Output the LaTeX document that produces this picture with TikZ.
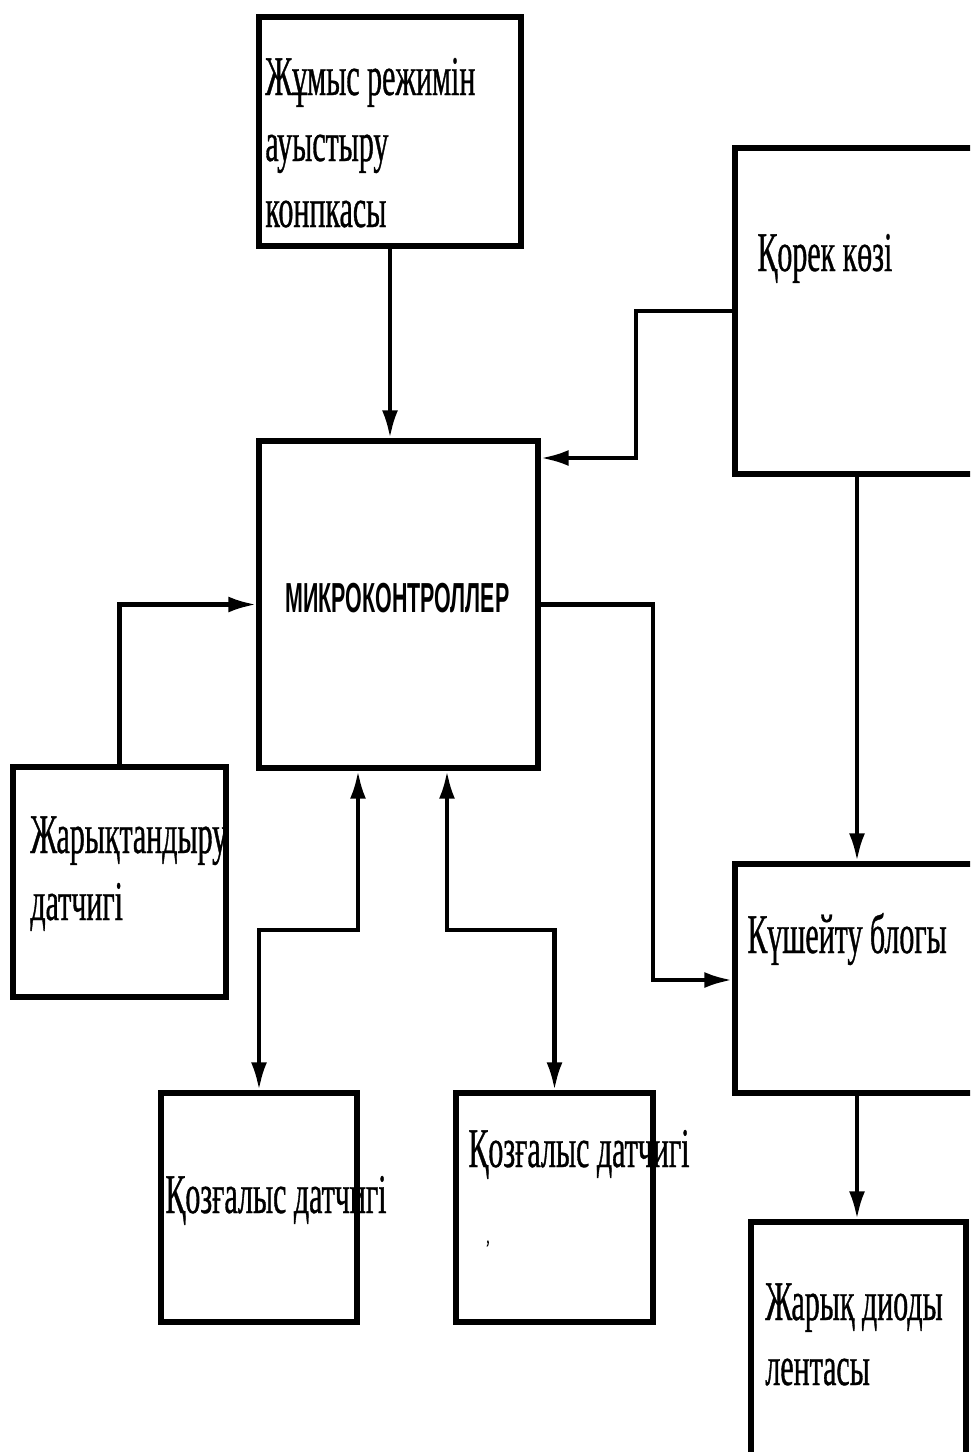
\documentclass[tikz,border=0pt]{standalone}
\usepackage{fontspec}
\usetikzlibrary{arrows.meta,fit}
\newfontfamily\condserif[FakeStretch=0.535,FakeBold=0.6]{Liberation Serif}
\newfontfamily\condsans[FakeStretch=0.51]{Liberation Sans}
\begin{document}
\begin{tikzpicture}[x=0.5pt,y=-0.5pt,
  box/.style={draw=black,line width=2.7pt,inner sep=0pt,fill=white},
  conn/.style={draw=black,line width=2.1pt},
  tip/.style={-{Latex[length=14pt,width=8pt]}},
  bothtip/.style={{Latex[length=14pt,width=8pt]}-{Latex[length=14pt,width=8pt]}},
  lbl/.style={inner sep=0pt,anchor=base west,font=\condserif\fontsize{28}{33}\selectfont},
  mcutext/.style={inner sep=0pt,anchor=base west,font=\condsans\bfseries\fontsize{21}{25}\selectfont}]
\useasboundingbox (0,0) rectangle (970,1452);
\clip (0,0) rectangle (970,1452);
\fill[white] (0,0) rectangle (970,1452);

% blocks
\node[box,fit={(259,17) (521,246)}] (mode) {};
\node[box,fit={(735,148) (979,474)}] (power) {};
\node[box,fit={(259,441) (538,768)}] (mcu) {};
\node[box,fit={(13,767) (226,997)}] (light) {};
\node[box,fit={(735,864) (979,1093)}] (amp) {};
\node[box,fit={(161,1093) (357,1322)}] (mot1) {};
\node[box,fit={(456,1093) (653,1322)}] (mot2) {};
\node[box,fit={(751,1222) (966,1470)}] (led) {};

% labels
\node[lbl] (modeA) at (265,95) {Жұмыс режимін};
\node[lbl] (modeB) at (265,161) {ауыстыру};
\node[lbl] (modeC) at (265,227) {конпкасы};
\node[lbl] (powerL) at (757,271) {Қорек көзі};
\node[mcutext] (mcuL) at (285,612) {МИКРОКОНТРОЛЛЕР};
\node[lbl] (lightA) at (30,853) {Жарықтандыру};
\node[lbl] (lightB) at (30,920) {датчигі};
\node[lbl] (ampL) at (747,953) {Күшейту блогы};
\node[lbl] (mot1L) at (165,1213) {Қозғалыс датчигі};
\node[lbl] (mot2L) at (468,1167) {Қозғалыс датчигі};
\node[inner sep=0pt,anchor=base west,font=\condserif\fontsize{12}{14}\selectfont] (mark) at (486,1243) {,};
\node[lbl] (ledA) at (765,1320) {Жарық диоды};
\node[lbl] (ledB) at (765,1385) {лентасы};

% junction points
\coordinate (pj) at (636,458);
\coordinate (aj) at (653,980);
\coordinate (m1) at (358,930);
\coordinate (m2) at (447,930);

% connectors
\draw[conn,tip] (mode.south) -- (mode.south |- mcu.north);
\draw[conn,tip] (power.west) -| (pj) -- (mcu.east |- pj);
\draw[conn,tip] (power.south) -- (power.south |- amp.north);
\draw[conn,tip] (mcu.east) -| (aj) -- (amp.west |- aj);
\draw[conn,tip] (light.north) |- (mcu.west);
\draw[conn,bothtip] (mcu.south -| m1) -- (m1) -| (mot1.north);
\draw[conn,bothtip] (mcu.south -| m2) -- (m2) -| (mot2.north);
\draw[conn,tip] (amp.south) -- (amp.south |- led.north);
\end{tikzpicture}
\end{document}
